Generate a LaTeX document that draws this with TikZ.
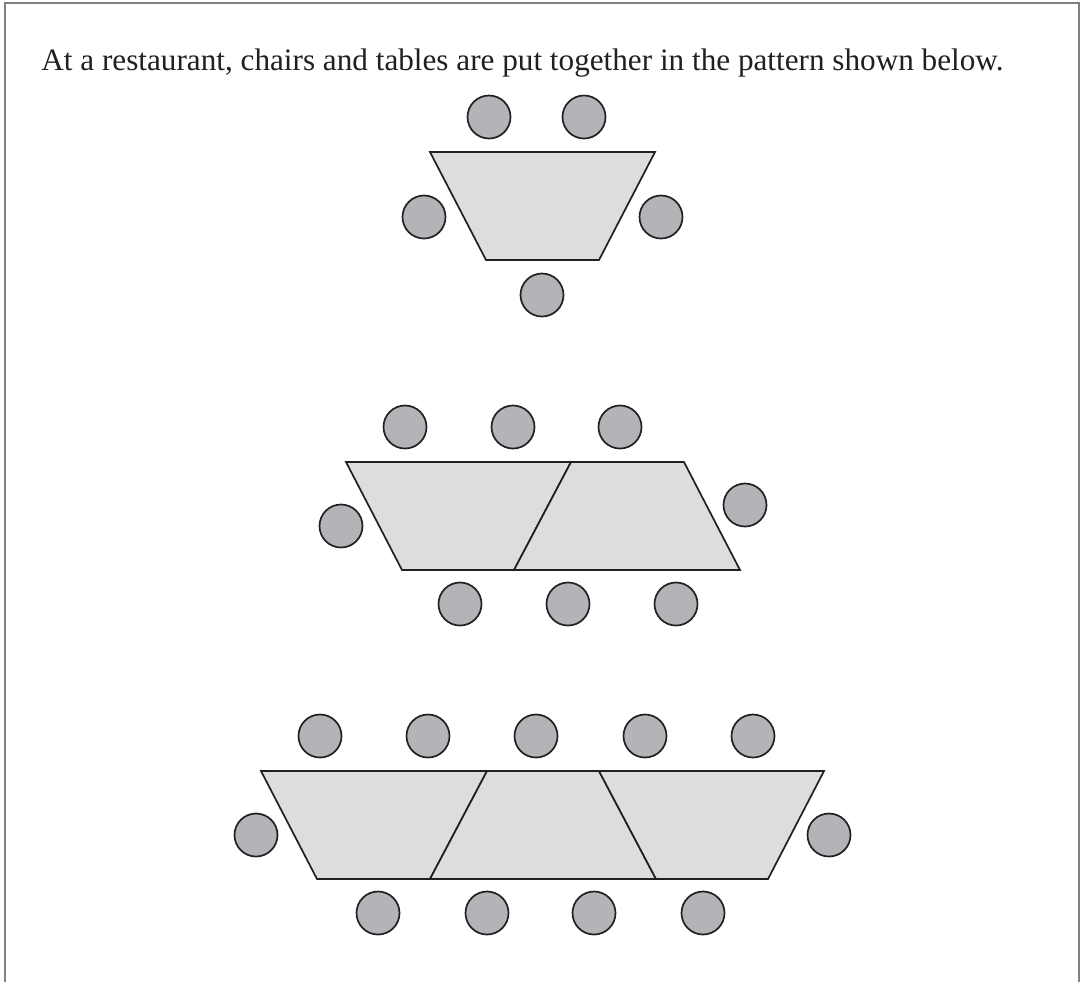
\documentclass[tikz,border=0pt]{standalone}
\usepackage{fontspec}
\setmainfont{Liberation Serif}
\definecolor{tablefill}{HTML}{DCDDDF}
\definecolor{chairfill}{HTML}{B3B4B7}
\definecolor{ink}{HTML}{231F20}
\definecolor{framegray}{HTML}{808080}
\begin{document}
\begin{tikzpicture}[x=0.5pt,y=-0.5pt,
  tablebox/.style={fill=tablefill,draw=ink,line width=0.85pt,line join=miter},
  chair/.style={circle,fill=chairfill,draw=ink,line width=0.85pt,minimum size=21.5pt,inner sep=0pt}]
\useasboundingbox (0,0) rectangle (1080,982);
% open frame
\draw[framegray,line width=1pt] (5,982) -- (5,3) -- (1079,3) -- (1079,982);
% heading
\node[anchor=base west,inner sep=0pt,font=\fontsize{15.6pt}{18pt}\selectfont,text=ink] (title) at (41,70)
  {At a restaurant, chairs and tables are put together in the pattern shown below.};

% one table
\draw[tablebox] (430,152) -- (655,152) -- (599,260) -- (486,260) -- cycle;
\node[chair] (a1) at (489,117) {};
\node[chair] (a2) at (584,117) {};
\node[chair] (a3) at (424,217) {};
\node[chair] (a4) at (661,217) {};
\node[chair] (a5) at (542,295) {};

% two tables
\draw[tablebox] (346,462) -- (571,462) -- (514,570) -- (402,570) -- cycle;
\draw[tablebox] (571,462) -- (684,462) -- (740,570) -- (514,570) -- cycle;
\node[chair] (b1) at (405,427) {};
\node[chair] (b2) at (513,427) {};
\node[chair] (b3) at (620,427) {};
\node[chair] (b4) at (341,526) {};
\node[chair] (b5) at (745,505) {};
\node[chair] (b6) at (460,604) {};
\node[chair] (b7) at (568,604) {};
\node[chair] (b8) at (676,604) {};

% three tables
\draw[tablebox] (261,771) -- (487,771) -- (430,879) -- (317,879) -- cycle;
\draw[tablebox] (487,771) -- (599,771) -- (656,879) -- (430,879) -- cycle;
\draw[tablebox] (599,771) -- (824,771) -- (768,879) -- (656,879) -- cycle;
\node[chair] (c1) at (320,736) {};
\node[chair] (c2) at (428,736) {};
\node[chair] (c3) at (536,736) {};
\node[chair] (c4) at (645,736) {};
\node[chair] (c5) at (753,736) {};
\node[chair] (c6) at (256,835) {};
\node[chair] (c7) at (829,835) {};
\node[chair] (c8) at (378,913) {};
\node[chair] (c9) at (487,913) {};
\node[chair] (c10) at (594,913) {};
\node[chair] (c11) at (703,913) {};
\end{tikzpicture}
\end{document}
